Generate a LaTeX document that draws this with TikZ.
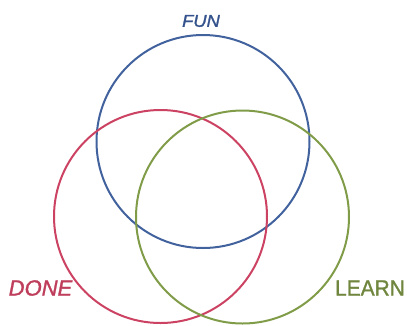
\documentclass[tikz,border=0pt]{standalone}
\usepackage{fontspec}
\setmainfont{Liberation Sans}
\newfontfamily\lblfont{Liberation Sans}[FakeBold=1.3]
\definecolor{funblue}{RGB}{66,98,158}
\definecolor{donered}{RGB}{204,66,98}
\definecolor{learngreen}{RGB}{128,156,72}
\definecolor{funtext}{RGB}{52,82,140}
\definecolor{donetext}{RGB}{190,62,92}
\definecolor{learntext}{RGB}{112,134,62}
\begin{document}
\begin{tikzpicture}[x=1pt,y=-1pt,
  ring/.style={line width=2pt},
  lbl/.style={inner sep=0pt,anchor=center}]
\useasboundingbox (0,0) rectangle (407,325);
\draw[ring,funblue] (203,141.5) circle[radius=106.5];
\draw[ring,donered] (160.5,216.5) circle[radius=106.5];
\draw[ring,learngreen] (242.5,217) circle[radius=106.5];
\node[lbl,text=funtext,font=\lblfont\fontsize{17}{17}\selectfont\itshape,xscale=1.08] (fun) at (201,21) {FUN};
\node[lbl,text=donetext,font=\lblfont\fontsize{22}{22}\selectfont\itshape] (done) at (40.5,288) {DONE};
\node[lbl,text=learntext,font=\lblfont\fontsize{22}{22}\selectfont,xscale=0.95] (learn) at (370,288) {LEARN};
\end{tikzpicture}
\end{document}
